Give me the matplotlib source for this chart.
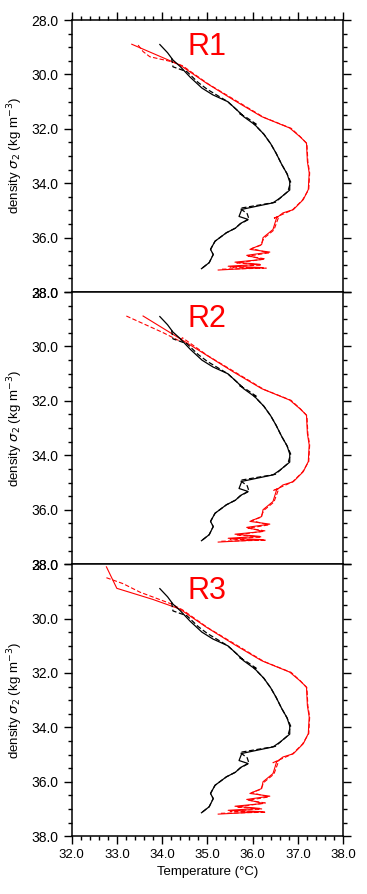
import matplotlib
matplotlib.use("Agg")
import matplotlib.pyplot as plt
from matplotlib.ticker import MultipleLocator, FormatStrFormatter

plt.rcParams['font.family'] = ['Liberation Sans', 'DejaVu Sans']

# black profiles (same in all three regions)
blk_sig = [28.90, 29.20, 29.47, 29.71, 30.10, 30.50, 30.75, 31.00, 31.30, 31.55,
           31.85, 32.20, 32.55, 32.90, 33.30, 33.65, 33.95, 34.25, 34.55, 34.72,
           34.96, 35.22, 35.33, 35.47, 35.65, 35.82, 36.13, 36.43, 36.62, 36.92, 37.14]
blk_T = [33.95, 34.12, 34.24, 34.40, 34.62, 34.88, 35.12, 35.45, 35.65, 35.80,
         36.05, 36.25, 36.40, 36.52, 36.64, 36.76, 36.82, 36.82, 36.60, 36.45,
         35.76, 35.70, 35.90, 35.74, 35.62, 35.42, 35.17, 35.07, 35.13, 35.04, 34.87]

blk_dash_sig = [29.40, 29.72, 29.90, 30.30, 30.55, 31.00, 31.38, 31.50, 31.45, 31.60,
                31.85, 31.80, 32.20, 32.55, 32.90, 33.30, 33.65, 33.95, 34.30, 34.70,
                34.92, 35.12, 35.32, 35.50, 35.65, 35.82, 36.13, 36.43, 36.62, 36.92, 37.14]
blk_dash_T = [34.21, 34.24, 34.55, 34.80, 35.00, 35.45, 35.70, 35.78, 35.72, 35.88,
              36.10, 36.02, 36.25, 36.40, 36.52, 36.64, 36.76, 36.84, 36.78, 36.50,
              35.72, 35.88, 35.92, 35.72, 35.62, 35.42, 35.17, 35.07, 35.13, 35.04, 34.87]

# red profiles: lower part shared, upper part differs per region
red_sig = [29.65, 30.32, 30.93, 31.55, 31.97, 32.28, 32.52, 33.20, 33.62, 34.23,
           34.60, 34.97, 35.09, 35.27, 35.70, 36.00, 36.25, 36.43, 36.53, 36.65,
           36.80, 36.90, 36.98, 37.05, 37.10, 37.19]
red_T = [34.39, 34.98, 35.57, 36.20, 36.82, 37.04, 37.19, 37.21, 37.25, 37.23,
         37.12, 36.90, 36.67, 36.53, 36.45, 36.23, 36.20, 35.94, 36.38, 35.87,
         36.23, 35.61, 36.16, 35.46, 36.23, 35.24]

red_dash_sig = [29.68, 30.35, 30.95, 31.58, 31.98, 32.30, 32.55, 33.20, 33.62, 34.23,
                34.62, 34.98, 35.30, 35.22, 35.72, 36.02, 36.28, 36.40, 36.56, 36.68,
                36.78, 36.93, 37.00, 37.08, 37.12, 37.16]
red_dash_T = [34.45, 35.02, 35.62, 36.25, 36.85, 37.06, 37.20, 37.22, 37.26, 37.24,
              37.10, 36.88, 36.45, 36.58, 36.47, 36.25, 36.18, 35.98, 36.35, 35.90,
              36.28, 35.65, 36.20, 35.50, 36.30, 35.30]

red_top_sig = {
    "R1": [28.89],
    "R2": [28.88, 29.86],
    "R3": [28.10, 28.89, 29.30],
}
red_top_T = {
    "R1": [33.33],
    "R2": [33.58, 34.54],
    "R3": [32.77, 33.00, 33.80],
}
red_dash_top_sig = {
    "R1": [28.92, 29.16, 29.35, 29.53],
    "R2": [28.88, 29.49, 29.80],
    "R3": [28.50, 28.72, 29.03, 29.46],
}
red_dash_top_T = {
    "R1": [33.47, 33.58, 33.73, 34.21],
    "R2": [33.21, 34.02, 34.39],
    "R3": [32.77, 33.14, 33.51, 34.20],
}

regions = ["R1", "R2", "R3"]

fig = plt.figure(figsize=(3.67, 8.94), dpi=100)
left, width, height = 0.195, 0.740, 0.3043
bottoms = [0.6733, 0.3690, 0.0647]
dash = (0, (4, 2))

for i, reg in enumerate(regions):
    ax = fig.add_axes([left, bottoms[i], width, height])
    if reg == "R2":
        rs_sig, rs_T = red_top_sig[reg] + red_sig[2:], red_top_T[reg] + red_T[2:]
    else:
        rs_sig, rs_T = red_top_sig[reg] + red_sig, red_top_T[reg] + red_T
    rd_sig = red_dash_top_sig[reg] + red_dash_sig
    rd_T = red_dash_top_T[reg] + red_dash_T

    ax.plot(rs_T, rs_sig, color="#ff0000", lw=0.8)
    ax.plot(rd_T, rd_sig, color="#ff0000", lw=0.8, ls=dash)
    ax.plot(blk_T, blk_sig, color="black", lw=0.9)
    ax.plot(blk_dash_T, blk_dash_sig, color="black", lw=0.9, ls=dash)

    ax.set_xlim(32, 38)
    ax.set_ylim(38, 28)
    ax.yaxis.set_major_locator(MultipleLocator(2))
    ax.yaxis.set_minor_locator(MultipleLocator(0.5))
    ax.yaxis.set_major_formatter(FormatStrFormatter("%.1f"))
    ax.xaxis.set_major_locator(MultipleLocator(1))
    ax.xaxis.set_minor_locator(MultipleLocator(0.2))
    ax.xaxis.set_major_formatter(FormatStrFormatter("%.1f"))

    ax.tick_params(axis="y", which="both", direction="out", left=True, right=True,
                   labelsize=10, width=1.0)
    ax.tick_params(axis="y", which="major", length=6)
    ax.tick_params(axis="y", which="minor", length=3)
    ax.tick_params(axis="x", which="both", direction="out", width=1.0,
                   top=(i == 0), bottom=(i == 2), labelbottom=(i == 2), labelsize=9.5)
    ax.tick_params(axis="x", which="major", length=6)
    ax.tick_params(axis="x", which="minor", length=3)
    for s in ax.spines.values():
        s.set_linewidth(1.1)

    ax.set_ylabel(r"density $\sigma_2$ (kg m$^{-3}$)", fontsize=9.5)
    ax.yaxis.set_label_coords(-0.17, 0.5)
    ax.text(0.50, 0.90, reg, transform=ax.transAxes, color="#ff0000",
            fontsize=22, ha="center", va="center")
    if i == 2:
        ax.set_xlabel("Temperature (°C)", fontsize=9.5, labelpad=3)

fig.savefig("out.png", dpi=100)
